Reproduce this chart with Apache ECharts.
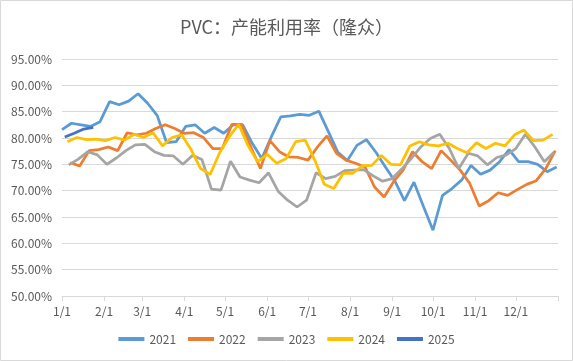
<!DOCTYPE html>
<html>
<head>
<meta charset="utf-8">
<script src="https://cdn.jsdelivr.net/npm/echarts@6/dist/echarts.min.js"></script>
<style>
html,body{margin:0;padding:0;background:#fff;}
#chart{width:573px;height:361px;}
</style>
</head>
<body>
<div id="chart"></div>
<script>
// Tick labels (month starts) and their day-of-year positions
const monthLabels = ['1/1','2/1','3/1','4/1','5/1','6/1','7/1','8/1','9/1','10/1','11/1','12/1'];
const monthStartDays = [0,31,59,90,120,151,181,212,243,273,304,334];
const yearEndDay = 365;

const seriesNames = ['2021','2022','2023','2024','2025'];
// day-of-year of each year's first weekly observation (Fridays)
const firstDays = [0,6,5,4,2];

const v2021 = [81.6,82.8,82.5,82.2,83.1,86.9,86.3,87.0,88.4,86.6,
  84.3,79.1,79.3,82.2,82.5,80.9,82.0,80.9,82.5,82.5,
  79.0,76.1,80.2,84.0,84.2,84.5,84.3,85.1,81.2,77.3,
  75.7,78.6,79.7,77.3,74.5,71.8,68.1,71.6,67.0,62.5,
  69.1,70.4,72.0,74.8,73.1,73.9,75.5,77.8,75.5,75.5,
  75.0,73.6,74.5];
const v2022 = [75.3,74.7,77.6,77.8,78.3,77.6,81.0,80.6,80.9,81.8,
  82.5,81.8,80.9,81.0,80.1,78.0,78.0,82.6,82.6,78.3,
  74.2,79.5,77.4,76.4,76.3,75.8,78.3,80.4,77.1,75.8,
  75.2,74.5,70.7,68.8,71.7,73.9,77.4,75.5,74.2,77.6,
  75.8,73.9,71.4,67.1,68.1,69.6,69.1,70.2,71.2,71.9,
  74.2,77.6];
const v2023 = [74.9,76.0,77.4,76.8,75.0,76.2,77.6,78.7,78.8,77.4,
  76.7,76.6,75.0,76.7,75.9,70.3,70.1,75.6,72.6,72.0,
  71.5,73.4,69.9,68.2,66.9,68.2,73.4,72.3,72.7,73.8,
  73.9,74.0,72.8,71.8,72.3,74.1,76.1,78.3,79.9,80.7,
  78.0,74.2,77.1,76.6,74.9,76.3,76.8,78.0,80.7,78.3,
  75.5,77.3];
const v2024 = [79.3,80.1,79.7,79.8,79.5,80.1,79.6,80.7,80.1,81.0,
  78.5,80.1,80.6,77.8,74.2,73.1,77.2,80.2,82.6,78.5,
  75.5,76.9,75.2,76.1,79.3,79.6,75.8,71.2,70.4,73.3,
  73.3,74.7,74.8,76.7,75.0,74.9,78.5,79.3,78.7,78.5,
  79.0,78.0,77.2,79.1,78.0,79.0,78.5,80.6,81.5,79.5,
  79.6,80.7];
const v2025 = [80.2,80.9,81.7,82.0];

const allValues = [v2021,v2022,v2023,v2024,v2025];
const colors = ['#5B9BD5','#ED7D31','#A5A5A5','#FFC000','#4472C4'];

const TXT = '#595959';
const FONT = '"Noto Sans CJK SC","Noto Sans",sans-serif';

const chart = echarts.init(document.getElementById('chart'));
chart.setOption({
  animation:false,
  backgroundColor:'#fff',
  title:{
    text:'PVC：产能利用率（隆众）',
    left:'center', top:13,
    textStyle:{color:TXT,fontSize:18,fontWeight:'normal',fontFamily:FONT}
  },
  graphic:[{type:'rect',shape:{x:0.5,y:0.5,width:572,height:360},
    style:{fill:null,stroke:'#D9D9D9',lineWidth:1},silent:true}],
  grid:{left:62,right:15,top:59,bottom:65,containLabel:false},
  legend:{
    data:seriesNames, bottom:11, left:'center',
    icon:'rect', itemWidth:26, itemHeight:4, itemGap:12,
    textStyle:{color:TXT,fontSize:12,fontFamily:FONT}
  },
  xAxis:{
    type:'value', min:0, max:yearEndDay,
    splitLine:{show:false},
    axisLine:{show:true,lineStyle:{color:'#D9D9D9'}},
    axisTick:{show:true,length:5,lineStyle:{color:'#D9D9D9'},customValues:monthStartDays.concat([yearEndDay])},
    axisLabel:{
      customValues:monthStartDays,
      color:TXT,fontSize:12,fontFamily:FONT,margin:9,
      formatter:function(v){const i=monthStartDays.indexOf(Math.round(v));return i>=0?monthLabels[i]:'';}
    }
  },
  yAxis:{
    type:'value', min:50, max:95, interval:5,
    axisLine:{show:false}, axisTick:{show:false},
    splitLine:{lineStyle:{color:'#D9D9D9'}},
    axisLabel:{color:TXT,fontSize:12,fontFamily:FONT,margin:10,
      formatter:function(v){return v.toFixed(2)+'%';}}
  },
  series:seriesNames.map(function(name,k){
    return {
      name:name, type:'line', showSymbol:false, symbol:'none',
      color:colors[k],
      lineStyle:{width:2.75,color:colors[k]},
      data:allValues[k].map(function(v,i){return [firstDays[k]+7*i, v];})
    };
  })
});
</script>
</body>
</html>
